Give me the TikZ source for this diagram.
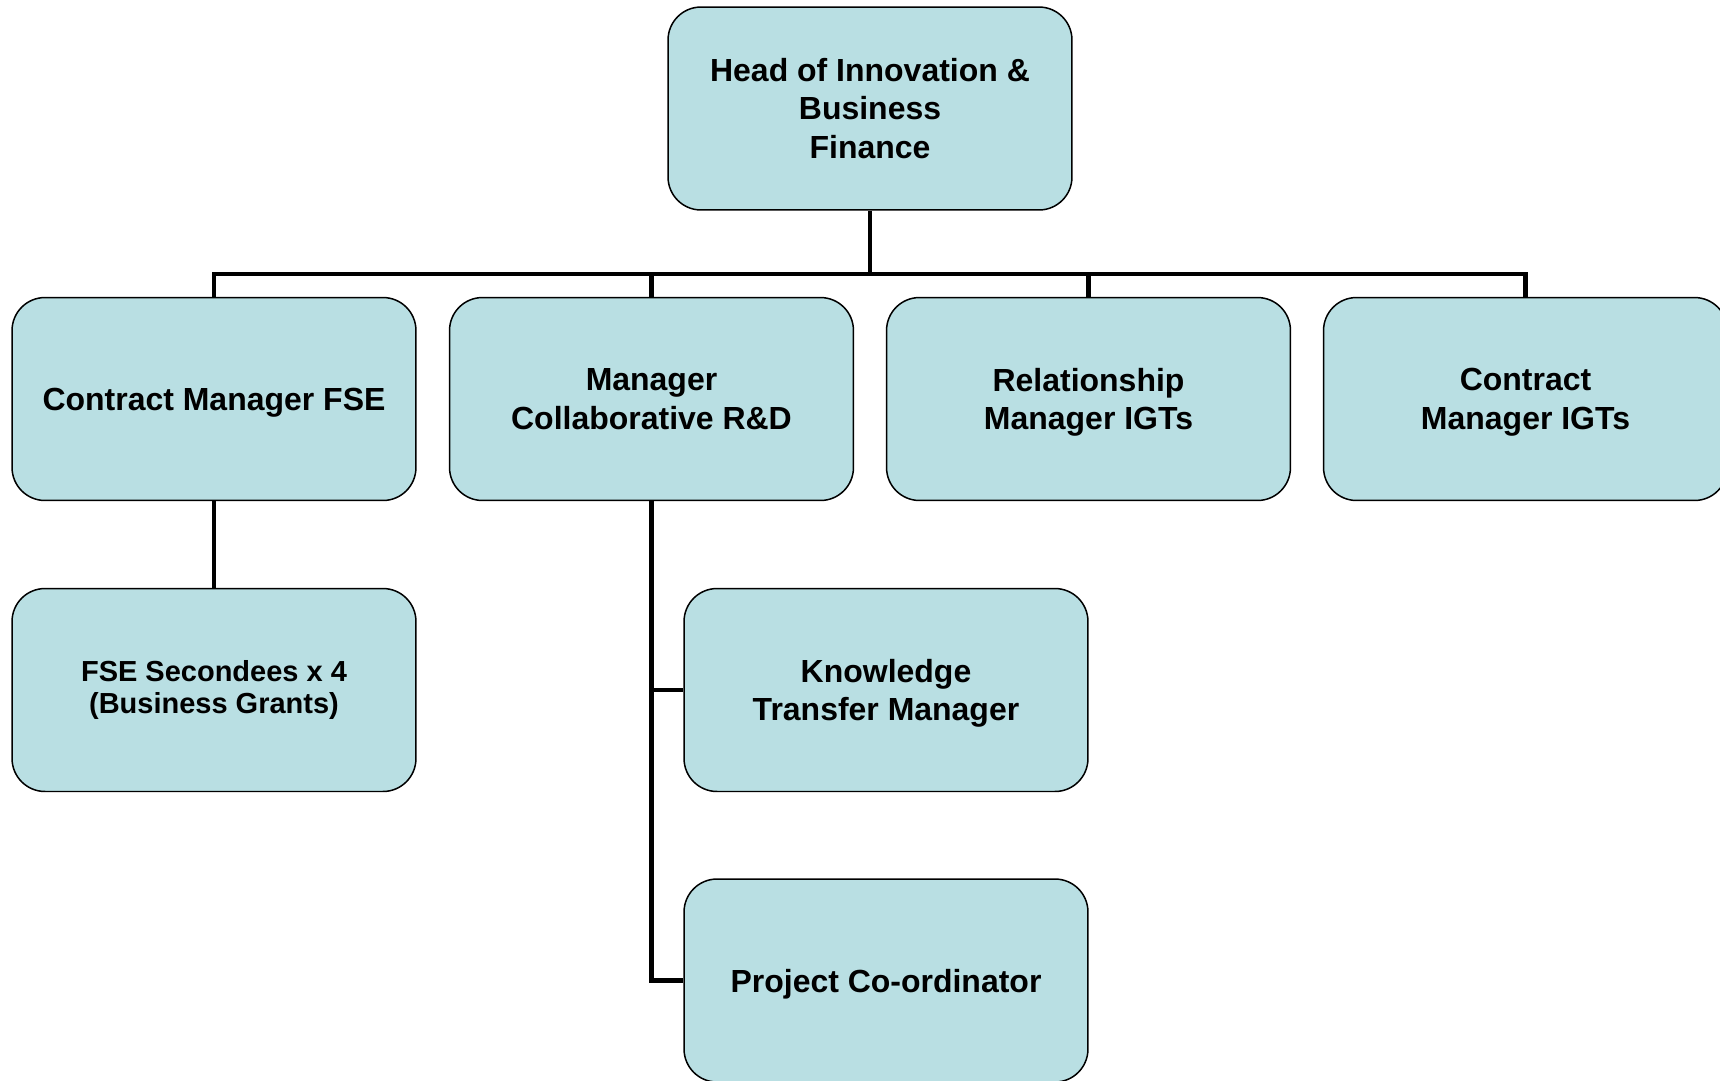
\documentclass[tikz,border=0pt]{standalone}
\usepackage{fontspec}
\setmainfont{Liberation Sans}
\usepackage{tikz}

\definecolor{postblue}{HTML}{B9DFE3}
\tikzset{
	box/.style={draw=black, line width=0.03cm, fill=postblue, rounded corners=0.66cm,
		minimum width=8.08cm, minimum height=4.06cm, align=center,
		font=\fontsize{18.2}{21.85}\selectfont\bfseries},
	post/.style={box, text depth=-0.05cm},
	small post/.style={box, font=\fontsize{16.5}{18.4}\selectfont\bfseries},
	link/.style={draw=black, line width=0.09cm}
}

\begin{document}
\begin{tikzpicture}[x=0.02cm, y=-0.02cm]
	\useasboundingbox (0,0) rectangle (1720,1080);
	\clip (0,0) rectangle (1720,1080);
	
	% Head of the unit
	\node[box] (head) at (870,108.5) {Head of Innovation \&\\Business\\Finance};
	
	% Managers
	\node[post] (cmfse) at (214,399) {Contract Manager FSE};
	\node[post] (mcrd) at (651.5,399) {Manager\\Collaborative R\&D};
	\node[post] (rmigt) at (1088.5,399) {Relationship\\Manager IGTs};
	\node[post] (cmigt) at (1525.5,399) {Contract\\Manager IGTs};
	
	% Staff
	\node[small post] (fse) at (214,690) {FSE Secondees x 4\\(Business Grants)};
	\node[post] (ktm) at (886,690) {Knowledge\\Transfer Manager};
	\node[post] (pco) at (886,980.5) {Project Co-ordinator};
	
	% Reporting lines
	\coordinate (bar) at (870,274);
	\draw[link] (head.south) -- (bar);
	\foreach \n in {cmfse,mcrd,rmigt,cmigt}
		\draw[link] (bar) -| (\n.north);
	\draw[link] (cmfse.south) -- (fse.north);
	\draw[link] (mcrd.south) |- (ktm.west);
	\draw[link] (mcrd.south) |- (pco.west);
\end{tikzpicture}
\end{document}
